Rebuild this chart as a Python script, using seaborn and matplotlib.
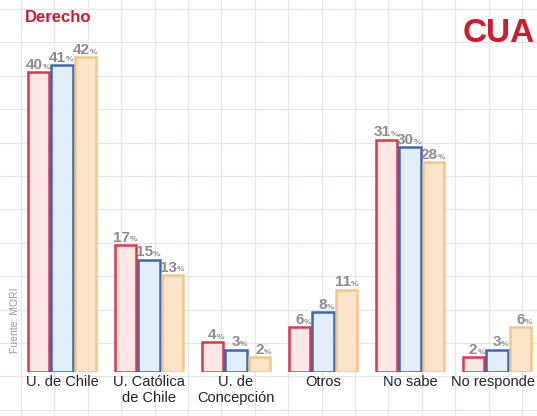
import numpy as np
import pandas as pd
import matplotlib
matplotlib.use("Agg")
import matplotlib.pyplot as plt
import matplotlib.transforms as mtransforms
import seaborn as sns

# data
categories = ["U. de Chile", "U. Católica\nde Chile", "U. de\nConcepción", "Otros", "No sabe", "No responde"]
series = ["A", "B", "C"]
vals_a = [40, 17, 4, 6, 31, 2]
vals_b = [41, 15, 3, 8, 30, 3]
vals_c = [42, 13, 2, 11, 28, 6]

fills = ["#fde6e3", "#deeefa", "#fde2c4"]
edges = ["#d8233a", "#2b58a6", "#efc27f"]

df = pd.DataFrame({
    "cat": categories * 3,
    "serie": [s for s in series for _ in categories],
    "val": vals_a + vals_b + vals_c,
})

sns.set_theme(style="white")
plt.rcParams["font.family"] = ["Liberation Sans", "DejaVu Sans"]

W, H = 537, 416
fig = plt.figure(figsize=(W / 100, H / 100), dpi=100)

# background grid paper
bg = fig.add_axes([0, 0, 1, 1])
bg.set_xlim(0, W)
bg.set_ylim(H, 0)
bg.set_xticks(np.arange(21, W, 33.4))
bg.set_yticks(np.arange(9, H, 33.4))
bg.grid(True, color="#e2e7ee", lw=0.9)
bg.tick_params(length=0, labelbottom=False, labelleft=False)
for s in bg.spines.values():
    s.set_visible(False)

# bar axes: baseline at 372px from top, 7.5 px per percent, groups 87px apart
base = 372
ax = fig.add_axes([0, (H - base) / H, 1, base / H])
ax.patch.set_alpha(0)
sns.barplot(data=df, x="cat", y="val", hue="serie", palette=fills, width=0.82,
            gap=0.1, legend=False, ax=ax, saturation=1)
ax.set_xlim(-62 / 87, 5 + (W - 497) / 87)
ax.set_ylim(0, base / 7.5)

for cont, ec in zip(ax.containers, edges):
    for bar in cont:
        bar.set_edgecolor(ec)
        bar.set_linewidth(1.8)
        bar.set_alpha(0.9)
        h = bar.get_height()
        cx = bar.get_x() + bar.get_width() / 2
        ax.annotate(f"{h:.0f}", xy=(cx, h), xytext=(3, 0), textcoords="offset points",
                    ha="right", va="bottom", fontsize=11, fontweight="bold", color="#8c8c8c")
        ax.annotate("%", xy=(cx, h), xytext=(3, 1), textcoords="offset points",
                    ha="left", va="bottom", fontsize=6, fontweight="bold", color="#8c8c8c")

ax.set_xlabel("")
ax.set_ylabel("")
ax.set_yticks([])
ax.tick_params(axis="x", length=0, pad=2, labelsize=10.5, colors="#222222")
for s in ax.spines.values():
    s.set_visible(False)

# last label sits against the right edge
last = ax.get_xticklabels()[-1]
last.set_transform(last.get_transform() + mtransforms.ScaledTranslation(-0.04, 0, fig.dpi_scale_trans))

fig.text(25 / W, 1 - 18 / H, "Derecho", color="#d01a2e", fontsize=12,
         fontweight="bold", va="center", ha="left")
fig.text(535 / W, 1 - 33 / H, "CUA", color="#d01a2e", fontsize=24,
         fontweight="bold", va="center", ha="right")
fig.text(15 / W, 1 - 320 / H, "Fuente: MORI", color="#9a9a9a", fontsize=7.5,
         rotation=90, va="center", ha="center")

fig.savefig("out.png", dpi=100)
